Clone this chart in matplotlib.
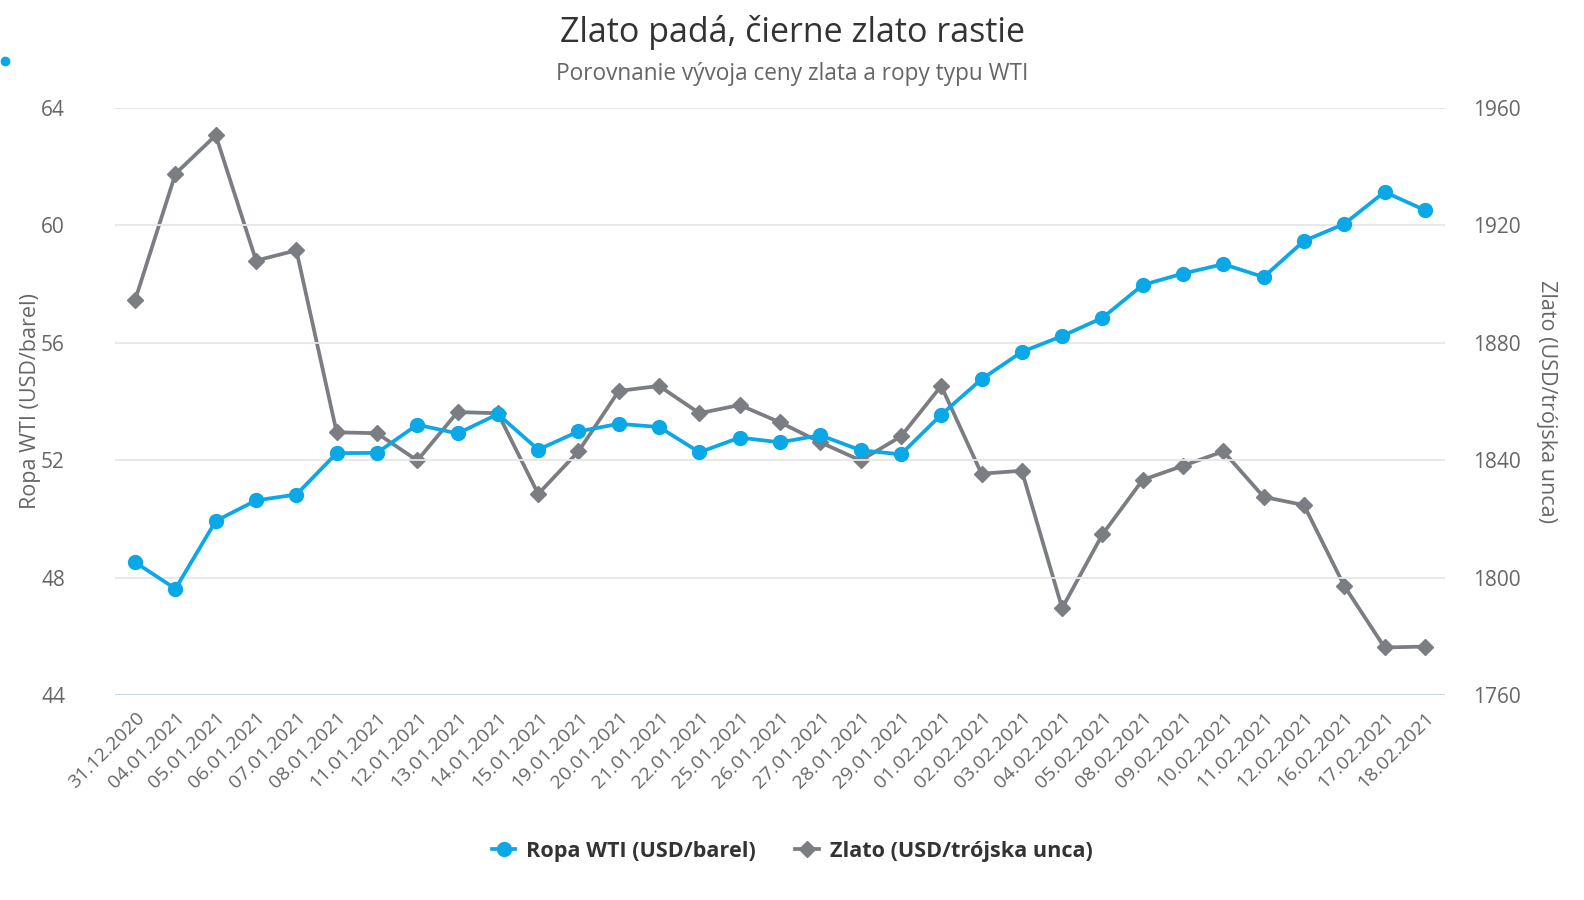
import matplotlib
matplotlib.use("Agg")
import matplotlib.pyplot as plt
from matplotlib.lines import Line2D

plt.rcParams['font.family'] = ['Open Sans', 'DejaVu Sans']

dates = ["31.12.2020", "04.01.2021", "05.01.2021", "06.01.2021", "07.01.2021", "08.01.2021",
         "11.01.2021", "12.01.2021", "13.01.2021", "14.01.2021", "15.01.2021", "19.01.2021",
         "20.01.2021", "21.01.2021", "22.01.2021", "25.01.2021", "26.01.2021", "27.01.2021",
         "28.01.2021", "29.01.2021", "01.02.2021", "02.02.2021", "03.02.2021", "04.02.2021",
         "05.02.2021", "08.02.2021", "09.02.2021", "10.02.2021", "11.02.2021", "12.02.2021",
         "16.02.2021", "17.02.2021", "18.02.2021"]

wti = [48.52, 47.62, 49.93, 50.63, 50.83, 52.24, 52.25, 53.21, 52.91, 53.57, 52.36, 52.98,
       53.24, 53.13, 52.27, 52.77, 52.61, 52.85, 52.34, 52.20, 53.55, 54.76, 55.69, 56.23,
       56.85, 57.97, 58.36, 58.68, 58.24, 59.47, 60.05, 61.14, 60.52]

gold = [1894.6, 1937.6, 1950.7, 1908.0, 1911.5, 1849.5, 1849.2, 1839.9, 1856.4, 1856.0,
        1828.5, 1843.0, 1863.6, 1865.3, 1856.0, 1858.8, 1852.9, 1846.1, 1839.9, 1848.1,
        1865.3, 1835.4, 1836.4, 1789.6, 1814.7, 1833.3, 1838.1, 1843.0, 1827.5, 1824.7,
        1797.2, 1776.2, 1776.5]

left_ticks = [44, 48, 52, 56, 60, 64]
right_ticks = [1760, 1800, 1840, 1880, 1920, 1960]

title = "Zlato padá, čierne zlato rastie"
subtitle = "Porovnanie vývoja ceny zlata a ropy typu WTI"
wti_name = "Ropa WTI (USD/barel)"
gold_name = "Zlato (USD/trójska unca)"

BLUE = "#0aa8e6"
GRAY = "#7a7d82"
TXT = "#666666"

fig = plt.figure(figsize=(15.84, 9.0), dpi=100)
ax = fig.add_axes([115/1584, 1-695/900, (1445-115)/1584, (695-108)/900])
ax2 = ax.twinx()

x = list(range(len(dates)))

ax.set_ylim(44, 64)
ax2.set_ylim(1760, 1960)
ax.set_xlim(-0.5, len(dates) - 0.5)
ax.set_yticks(left_ticks)
ax2.set_yticks(right_ticks)

for a in (ax, ax2):
    for s in a.spines.values():
        s.set_visible(False)
    a.tick_params(axis='y', length=0, labelsize=15, labelcolor=TXT)

for t in left_ticks[1:]:
    ax.axhline(t, color="#e6e6e6", lw=1.3, zorder=0)
ax.axhline(44, color="#ccd6eb", lw=1.5, zorder=0)

ax.tick_params(axis='y', pad=36)
ax2.tick_params(axis='y', pad=20)

ax.set_xticks(x)
ax.set_xticklabels(dates, rotation=45, ha='right', rotation_mode='anchor',
                   fontsize=14, color=TXT)
ax.tick_params(axis='x', length=0, pad=10)

ax2.plot(x, gold, color=GRAY, lw=2.7, marker='D', markersize=8, zorder=3,
         label=gold_name)
ax.plot(x, wti, color=BLUE, lw=2.7, marker='o', markersize=10, zorder=4,
        label=wti_name)
ax.set_zorder(ax2.get_zorder() + 1)
ax.patch.set_visible(False)

ax.set_ylabel(wti_name, fontsize=15.5, color=TXT, va='center')
ax.yaxis.set_label_coords(-0.0635, 0.5)
ax2.set_ylabel(gold_name, fontsize=15.5, color=TXT, rotation=270, va='center')
ax2.yaxis.set_label_coords(1.076, 0.5)

fig.text(0.5, 1-32/900, title, ha='center', va='center', fontsize=24.5, color="#333333")
fig.text(0.5, 1-74/900, subtitle, ha='center', va='center', fontsize=16.3, color=TXT)

handles = [Line2D([], [], color=BLUE, lw=2.7, marker='o', markersize=10),
           Line2D([], [], color=GRAY, lw=2.7, marker='D', markersize=8)]
fig.legend(handles, [wti_name, gold_name], loc='center', bbox_to_anchor=(0.5, 1-851/900),
           ncol=2, frameon=False, prop={'size': 15.6, 'weight': 'bold'},
           labelcolor="#333333", handlelength=1.1, columnspacing=1.8, handletextpad=0.5)

# small stray marker at top-left corner of the original
fig.add_artist(Line2D([5/1584], [1-61/900], marker='o', color=BLUE, markersize=6,
                      transform=fig.transFigure))

fig.savefig("out.png", dpi=100)
